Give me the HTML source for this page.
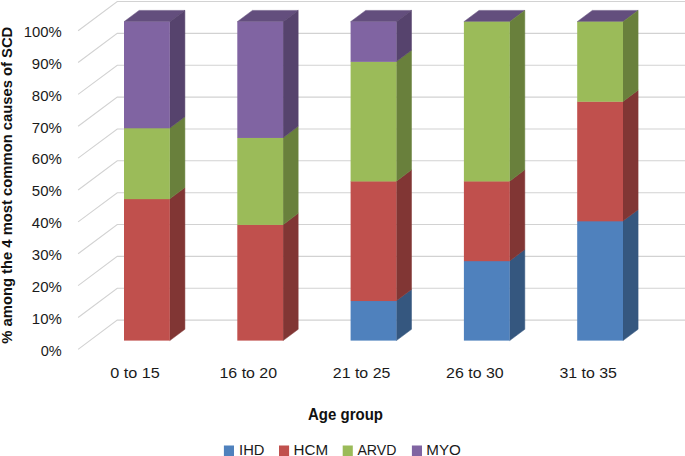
<!DOCTYPE html>
<html><head><meta charset="utf-8"><title>Chart</title>
<style>html,body{margin:0;padding:0;background:#fff}body{width:685px;height:456px;overflow:hidden}</style></head>
<body>
<svg width="685" height="456" viewBox="0 0 685 456" style="display:block">
<rect width="685" height="456" fill="#fff"/>
<g fill="none" stroke="#d2d2d2" stroke-width="1.1">
<polyline points="78.10,30.70 117.25,1.50 685,1.50"/>
<polyline points="78.10,62.56 117.25,33.36 685,33.36"/>
<polyline points="78.10,94.43 117.25,65.23 685,65.23"/>
<polyline points="78.10,126.30 117.25,97.09 685,97.09"/>
<polyline points="78.10,158.16 117.25,128.96 685,128.96"/>
<polyline points="78.10,190.02 117.25,160.82 685,160.82"/>
<polyline points="78.10,221.89 117.25,192.69 685,192.69"/>
<polyline points="78.10,253.75 117.25,224.55 685,224.55"/>
<polyline points="78.10,285.62 117.25,256.42 685,256.42"/>
<polyline points="78.10,317.48 117.25,288.28 685,288.28"/>
<polyline points="78.10,349.35 117.25,320.15 685,320.15"/>
</g>
<polygon points="124.00,21.70 139.10,10.40 184.90,10.40 169.80,21.70" fill="#634e7d" stroke="#634e7d" stroke-width="0.5"/>
<polygon points="169.80,198.87 184.90,187.57 184.90,329.30 169.80,340.60" fill="#813634" stroke="#813634" stroke-width="0.5"/>
<polygon points="169.80,128.00 184.90,116.70 184.90,187.57 169.80,198.87" fill="#69803c" stroke="#69803c" stroke-width="0.5"/>
<polygon points="169.80,21.70 184.90,10.40 184.90,116.70 169.80,128.00" fill="#56436d" stroke="#56436d" stroke-width="0.5"/>
<rect x="124.00" y="198.87" width="45.80" height="141.73" fill="#c0504d"/>
<rect x="124.00" y="128.00" width="45.80" height="71.17" fill="#9bbb59"/>
<rect x="124.00" y="21.70" width="45.80" height="106.60" fill="#8064a2"/>
<polygon points="237.30,21.70 252.40,10.40 298.20,10.40 283.10,21.70" fill="#634e7d" stroke="#634e7d" stroke-width="0.5"/>
<polygon points="283.10,224.64 298.20,213.34 298.20,329.30 283.10,340.60" fill="#813634" stroke="#813634" stroke-width="0.5"/>
<polygon points="283.10,137.66 298.20,126.36 298.20,213.34 283.10,224.64" fill="#69803c" stroke="#69803c" stroke-width="0.5"/>
<polygon points="283.10,21.70 298.20,10.40 298.20,126.36 283.10,137.66" fill="#56436d" stroke="#56436d" stroke-width="0.5"/>
<rect x="237.30" y="224.64" width="45.80" height="115.96" fill="#c0504d"/>
<rect x="237.30" y="137.66" width="45.80" height="87.27" fill="#9bbb59"/>
<rect x="237.30" y="21.70" width="45.80" height="116.26" fill="#8064a2"/>
<polygon points="350.60,21.70 365.70,10.40 411.50,10.40 396.40,21.70" fill="#634e7d" stroke="#634e7d" stroke-width="0.5"/>
<polygon points="396.40,300.74 411.50,289.44 411.50,329.30 396.40,340.60" fill="#35577f" stroke="#35577f" stroke-width="0.5"/>
<polygon points="396.40,181.15 411.50,169.85 411.50,289.44 396.40,300.74" fill="#813634" stroke="#813634" stroke-width="0.5"/>
<polygon points="396.40,61.56 411.50,50.26 411.50,169.85 396.40,181.15" fill="#69803c" stroke="#69803c" stroke-width="0.5"/>
<polygon points="396.40,21.70 411.50,10.40 411.50,50.26 396.40,61.56" fill="#56436d" stroke="#56436d" stroke-width="0.5"/>
<rect x="350.60" y="300.74" width="45.80" height="39.86" fill="#4f81bd"/>
<rect x="350.60" y="181.15" width="45.80" height="119.89" fill="#c0504d"/>
<rect x="350.60" y="61.56" width="45.80" height="119.89" fill="#9bbb59"/>
<rect x="350.60" y="21.70" width="45.80" height="40.16" fill="#8064a2"/>
<polygon points="463.90,21.70 479.00,10.40 524.80,10.40 509.70,21.70" fill="#634e7d" stroke="#634e7d" stroke-width="0.5"/>
<polygon points="509.70,260.88 524.80,249.57 524.80,329.30 509.70,340.60" fill="#35577f" stroke="#35577f" stroke-width="0.5"/>
<polygon points="509.70,181.15 524.80,169.85 524.80,249.57 509.70,260.88" fill="#813634" stroke="#813634" stroke-width="0.5"/>
<polygon points="509.70,21.70 524.80,10.40 524.80,169.85 509.70,181.15" fill="#69803c" stroke="#69803c" stroke-width="0.5"/>
<rect x="463.90" y="260.88" width="45.80" height="79.73" fill="#4f81bd"/>
<rect x="463.90" y="181.15" width="45.80" height="80.03" fill="#c0504d"/>
<rect x="463.90" y="21.70" width="45.80" height="159.75" fill="#9bbb59"/>
<polygon points="577.20,21.70 592.30,10.40 638.10,10.40 623.00,21.70" fill="#634e7d" stroke="#634e7d" stroke-width="0.5"/>
<polygon points="623.00,221.01 638.10,209.71 638.10,329.30 623.00,340.60" fill="#35577f" stroke="#35577f" stroke-width="0.5"/>
<polygon points="623.00,101.43 638.10,90.13 638.10,209.71 623.00,221.01" fill="#813634" stroke="#813634" stroke-width="0.5"/>
<polygon points="623.00,21.70 638.10,10.40 638.10,90.13 623.00,101.43" fill="#69803c" stroke="#69803c" stroke-width="0.5"/>
<rect x="577.20" y="221.01" width="45.80" height="119.59" fill="#4f81bd"/>
<rect x="577.20" y="101.43" width="45.80" height="119.89" fill="#c0504d"/>
<rect x="577.20" y="21.70" width="45.80" height="80.03" fill="#9bbb59"/>
<g font-family="Liberation Sans, sans-serif" font-size="15" fill="#1a1a1a" text-anchor="end">
<text x="61.8" y="36.90" textLength="38" lengthAdjust="spacingAndGlyphs">100%</text>
<text x="61.8" y="68.77" textLength="30" lengthAdjust="spacingAndGlyphs">90%</text>
<text x="61.8" y="100.63" textLength="30" lengthAdjust="spacingAndGlyphs">80%</text>
<text x="61.8" y="132.50" textLength="30" lengthAdjust="spacingAndGlyphs">70%</text>
<text x="61.8" y="164.36" textLength="30" lengthAdjust="spacingAndGlyphs">60%</text>
<text x="61.8" y="196.22" textLength="30" lengthAdjust="spacingAndGlyphs">50%</text>
<text x="61.8" y="228.09" textLength="30" lengthAdjust="spacingAndGlyphs">40%</text>
<text x="61.8" y="259.95" textLength="30" lengthAdjust="spacingAndGlyphs">30%</text>
<text x="61.8" y="291.82" textLength="30" lengthAdjust="spacingAndGlyphs">20%</text>
<text x="61.8" y="323.68" textLength="30" lengthAdjust="spacingAndGlyphs">10%</text>
<text x="61.8" y="355.55" textLength="21" lengthAdjust="spacingAndGlyphs">0%</text>
</g>
<g font-family="Liberation Sans, sans-serif" font-size="14.7" fill="#1a1a1a" text-anchor="middle">
<text x="135.00" y="377.8" textLength="49.6" lengthAdjust="spacingAndGlyphs">0 to 15</text>
<text x="248.30" y="377.8" textLength="57.6" lengthAdjust="spacingAndGlyphs">16 to 20</text>
<text x="361.60" y="377.8" textLength="57.6" lengthAdjust="spacingAndGlyphs">21 to 25</text>
<text x="474.90" y="377.8" textLength="57.6" lengthAdjust="spacingAndGlyphs">26 to 30</text>
<text x="588.20" y="377.8" textLength="57.6" lengthAdjust="spacingAndGlyphs">31 to 35</text>
</g>
<text font-family="Liberation Sans, sans-serif" font-size="15.6" font-weight="bold" fill="#111" text-anchor="middle" x="345.5" y="419.6" textLength="75" lengthAdjust="spacingAndGlyphs">Age group</text>
<text font-family="Liberation Sans, sans-serif" font-size="14.6" font-weight="bold" fill="#111" text-anchor="middle" textLength="317" lengthAdjust="spacingAndGlyphs" transform="translate(12.4,185.2) rotate(-90)">% among the 4 most common causes of SCD</text>
<rect x="223.9" y="445.5" width="10.1" height="10.5" fill="#4f81bd"/>
<text font-family="Liberation Sans, sans-serif" font-size="15" fill="#1a1a1a" x="239.1" y="454.8" textLength="25.4" lengthAdjust="spacingAndGlyphs">IHD</text>
<rect x="279" y="445.5" width="10.1" height="10.5" fill="#c0504d"/>
<text font-family="Liberation Sans, sans-serif" font-size="15" fill="#1a1a1a" x="293.5" y="454.8" textLength="34.6" lengthAdjust="spacingAndGlyphs">HCM</text>
<rect x="342.7" y="445.5" width="10.1" height="10.5" fill="#9bbb59"/>
<text font-family="Liberation Sans, sans-serif" font-size="15" fill="#1a1a1a" x="357.4" y="454.8" textLength="39" lengthAdjust="spacingAndGlyphs">ARVD</text>
<rect x="411.9" y="445.5" width="10.1" height="10.5" fill="#8064a2"/>
<text font-family="Liberation Sans, sans-serif" font-size="15" fill="#1a1a1a" x="426.3" y="454.8" textLength="34.6" lengthAdjust="spacingAndGlyphs">MYO</text>
</svg>
</body></html>
